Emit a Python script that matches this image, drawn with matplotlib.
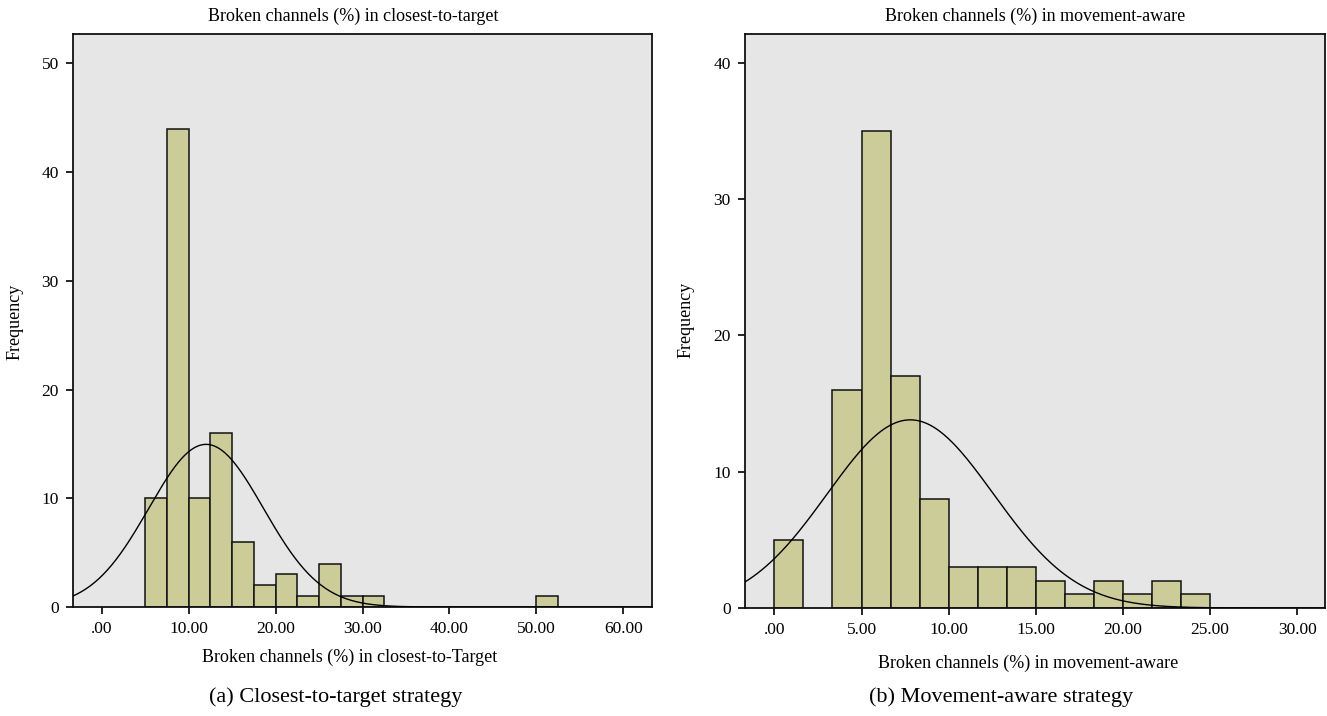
import numpy as np
import matplotlib
matplotlib.use("Agg")
import matplotlib.pyplot as plt
from matplotlib.ticker import FuncFormatter

# closest-to-target: bins of 2.5, counts
ctt_edges = [5.0, 7.5, 10.0, 12.5, 15.0, 17.5, 20.0, 22.5, 25.0, 27.5, 30.0, 50.0]
ctt_counts = [10, 44, 10, 16, 6, 2, 3, 1, 4, 1, 1, 1]
ctt_width = 2.5
ctt_mean = 12.0
ctt_sd = 6.6

# movement-aware: bins of 25/15
ma_edges = [0.0, 3.333, 5.0, 6.667, 8.333, 10.0, 11.667, 13.333, 15.0,
            16.667, 18.333, 20.0, 21.667, 23.333]
ma_counts = [5, 16, 35, 17, 8, 3, 3, 3, 2, 1, 2, 1, 2, 1]
ma_width = 25.0 / 15
ma_mean = 7.8
ma_sd = 4.77

plt.rcParams['font.family'] = ['Liberation Serif', 'DejaVu Serif']

BAR = '#CCCC99'
BG = '#E6E6E6'
W, H = 1327, 716


def fmt_x(v, pos):
    s = f"{v:.2f}"
    if s.startswith("0"):
        s = s[1:]
    return s


def panel(ax, edges, counts, width, mean, sd, xlim, ylim, xticks, yticks):
    ax.set_facecolor(BG)
    ax.bar(edges, counts, width=width, align='edge', color=BAR,
           edgecolor='#111111', linewidth=1.1, zorder=2)
    n = sum(counts)
    xs = np.linspace(xlim[0], xlim[1], 400)
    ys = n * width / (sd * np.sqrt(2 * np.pi)) * np.exp(-0.5 * ((xs - mean) / sd) ** 2)
    ax.plot(xs, ys, color='black', linewidth=1.0, zorder=3)
    ax.set_xlim(*xlim)
    ax.set_ylim(*ylim)
    ax.set_xticks(xticks)
    ax.set_yticks(yticks)
    ax.xaxis.set_major_formatter(FuncFormatter(fmt_x))
    ax.tick_params(labelsize=12.5, length=5, width=1.2, color='black', pad=5)
    for sp in ax.spines.values():
        sp.set_linewidth(1.3)
        sp.set_color('#111111')


def label(x, y, s, size=13, **kw):
    fig.text(x / W, 1 - y / H, s, ha='center', va='center', fontsize=size, **kw)


fig = plt.figure(figsize=(13.27, 7.16), dpi=100)

ax1 = fig.add_axes([72.7 / W, 1 - 607 / H, (652 - 72.7) / W, (607 - 34) / H])
panel(ax1, ctt_edges, ctt_counts, ctt_width, ctt_mean, ctt_sd,
      (-3.35, 63.3), (0, 52.7), [0, 10, 20, 30, 40, 50, 60], [0, 10, 20, 30, 40, 50])

ax2 = fig.add_axes([744.6 / W, 1 - 608 / H, (1325 - 744.6) / W, (608 - 34) / H])
panel(ax2, ma_edges, ma_counts, ma_width, ma_mean, ma_sd,
      (-1.71, 31.6), (0, 42.1), [0, 5, 10, 15, 20, 25, 30], [0, 10, 20, 30, 40])

label(353, 16, "Broken channels (%) in closest-to-target")
label(1035, 16, "Broken channels (%) in movement-aware")

label(350, 657, "Broken channels (%) in closest-to-Target")
label(1028, 663, "Broken channels (%) in movement-aware")

label(15, 322, "Frequency", rotation=90)
label(686, 320, "Frequency", rotation=90)

label(336, 697, "(a) Closest-to-target strategy", size=16)
label(1001, 697, "(b) Movement-aware strategy", size=16)

fig.savefig("out.png", dpi=100, facecolor='white')
